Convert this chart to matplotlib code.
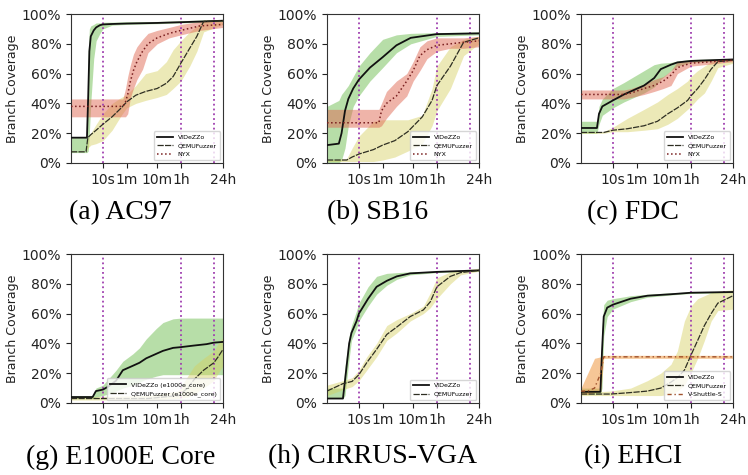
import matplotlib.pyplot as plt
from matplotlib.ticker import NullLocator

# x axis: fuzzing time in seconds (log scale)
XTICKS = [10, 60, 600, 3600, 86400]
XTICK_LABELS = ["10s", "1m", "10m", "1h", "24h"]
YTICKS = [0, 20, 40, 60, 80, 100]
VLINES = [10, 3600, 43200]

# ---- (a) AC97 ----
ac97_vz_t = [0.9, 3, 3.3, 3.6, 4, 5, 6, 8, 10, 20, 60, 600, 3600, 20000, 86400]
ac97_vz = [17, 17, 45, 75, 85, 89, 91, 92.5, 93, 93.3, 93.6, 94, 94.5, 95, 95.5]
ac97_vz_lo = [7, 7, 8, 20, 40, 70, 82, 87, 90, 92.5, 93, 93.5, 94, 94.5, 95]
ac97_vz_hi = [17, 17, 75, 90, 92, 93, 94, 94, 94.5, 94.5, 94.8, 95, 95.5, 96, 96]

ac97_qf_t = [0.9, 2.8, 3.2, 4, 6, 10, 20, 40, 60, 120, 250, 600, 1200, 2000, 3600, 7000, 12000, 20000, 86400]
ac97_qf = [7.5, 7.5, 17, 19, 22, 26, 31, 37, 41, 45.5, 48, 50, 53.5, 58, 67, 77, 85, 95, 95.5]
ac97_qf_lo = [7.5, 7.5, 10, 12, 13, 15, 22, 32, 37, 40, 42, 44, 46, 50, 55, 65, 75, 88, 93]
ac97_qf_hi = [7.5, 7.5, 17, 20, 26, 33, 40, 44, 46, 52, 60, 62, 68, 76, 82, 88, 92, 96, 96]

ac97_nyx_t = [0.9, 45, 55, 65, 80, 100, 130, 200, 300, 600, 1500, 3600, 15000, 86400]
ac97_nyx = [38, 38, 41, 46, 55, 62, 68, 75, 80, 84, 87, 89, 92, 93]
ac97_nyx_lo = [31, 31, 31, 33, 44, 50, 56, 63, 74, 80, 84, 86, 89, 91]
ac97_nyx_hi = [43, 43, 50, 58, 66, 73, 78, 83, 87, 89, 91, 93, 95, 95]

# ---- (b) SB16 ----
sb16_vz_t = [0.9, 2.2, 2.7, 3.5, 4.5, 6.5, 10, 23, 60, 170, 500, 3600, 86400]
sb16_vz = [12, 13, 20, 35, 43, 50, 56, 64, 71, 79, 84, 86.5, 87]
sb16_vz_lo = [0, 0, 2, 10, 25, 38, 45, 55, 64, 74, 80, 85, 86]
sb16_vz_hi = [38, 42, 46, 49, 52, 58, 65, 74, 83, 86, 87, 87.5, 88]

sb16_qf_t = [0.9, 4, 6, 10, 30, 60, 150, 400, 1200, 2500, 3600, 10000, 27000, 86400]
sb16_qf = [2, 2, 4, 6, 9, 12, 15, 21, 31, 42, 52, 65, 81, 84]
sb16_qf_lo = [1, 1, 1, 1, 1, 2, 4, 8, 13, 25, 35, 50, 72, 80]
sb16_qf_hi = [2, 3, 10, 18, 28, 29, 29, 29, 32, 50, 65, 78, 83, 85]

sb16_nyx_t = [0.9, 45, 55, 80, 170, 370, 600, 1000, 1700, 3600, 10000, 27000, 86400]
sb16_nyx = [27, 27, 35, 40, 45, 55, 62, 72, 76, 79, 80, 81, 82]
sb16_nyx_lo = [24, 24, 25, 30, 38, 45, 55, 62, 70, 75, 77, 77, 78]
sb16_nyx_hi = [36, 36, 40, 48, 55, 60, 68, 78, 82, 84, 84, 84, 85]

# ---- (c) FDC ----
fdc_vz_t = [0.9, 3, 3.5, 4.5, 10, 23, 49, 105, 225, 370, 800, 1300, 3600, 86400]
fdc_vz = [23.5, 23.5, 33, 38, 42, 46, 49, 52, 57, 63, 66, 67.5, 68.5, 69.5]
fdc_vz_lo = [20, 20, 26, 32, 37, 41, 44, 47, 51, 56, 62, 65, 67.5, 69]
fdc_vz_hi = [28, 28, 38, 43, 50, 54, 58, 62, 66, 67, 67.5, 68.5, 69.5, 70]

fdc_qf_t = [0.9, 5, 10, 30, 105, 290, 630, 1300, 2800, 3600, 6000, 10000, 16600, 27500, 86400]
fdc_qf = [20.5, 20.5, 22, 23, 25, 28, 33, 37, 42, 45, 50, 56, 63, 68, 69]
fdc_qf_lo = [20, 20, 21, 21, 22, 23, 26, 30, 36, 38, 43, 47, 55, 64, 67]
fdc_qf_hi = [21, 21, 24, 30, 36, 41, 46, 50, 55, 58, 62, 65, 68, 69, 70]

fdc_nyx_t = [0.9, 23, 40, 105, 225, 450, 800, 1300, 3600, 86400]
fdc_nyx = [46, 46, 47, 50, 52, 55, 59, 64, 67, 69]
fdc_nyx_lo = [43, 43, 44, 46, 48, 50, 52, 60, 65, 68]
fdc_nyx_hi = [49, 49, 50, 53, 56, 58, 62, 68, 69, 70]

# ---- (g) E1000E Core ----
e1k_vz_t = [0.9, 4.6, 5.9, 10, 15, 27, 45, 96, 158, 263, 560, 930, 2000, 3600, 9100, 25000, 43200, 86400]
e1k_vz = [4, 4, 8, 9, 11, 15, 22, 25, 27, 30, 33, 35, 37, 37.5, 38.5, 39.5, 40.5, 41]
e1k_vz_lo = [3, 3, 4, 5, 6, 8, 10, 12, 14, 16, 18, 19, 19, 19, 19, 19, 19, 19]
e1k_vz_hi = [5, 5, 10, 12, 16, 22, 28, 33, 37, 43, 50, 54, 56.5, 57, 57, 57, 57, 57]

e1k_qf_t = [0.9, 300, 3000, 6000, 10000, 20000, 43200, 60000, 86400]
e1k_qf = [3, 3, 5, 10, 16, 22, 27, 31, 36]
e1k_qf_lo = [2, 2, 3, 4, 6, 10, 15, 20, 25]
e1k_qf_hi = [4, 5, 8, 18, 25, 30, 35, 40, 44]

# ---- (h) CIRRUS-VGA ----
vga_vz_t = [0.9, 3, 3.5, 4.8, 5.7, 8.4, 10, 20, 38, 82, 175, 480, 3600, 86400]
vga_vz = [3, 3, 15, 40, 47, 55, 60, 70, 78, 82, 85, 87, 88, 89]
vga_vz_lo = [3, 3, 5, 30, 42, 50, 55, 65, 73, 79, 83, 86, 87.5, 88.5]
vga_vz_hi = [10, 10, 25, 45, 52, 62, 67, 78, 85, 87, 87.5, 88, 88.5, 89.5]

vga_qf_t = [0.9, 3, 6, 10, 18, 38, 82, 175, 480, 1300, 2200, 3600, 10000, 21500, 86400]
vga_qf = [8, 13, 14.5, 19, 27, 36, 46, 51, 58, 62.5, 68, 78, 85, 87.5, 89]
vga_qf_lo = [5, 9, 11, 15, 22, 31, 42, 47, 55, 60, 64, 70, 80, 86, 88.5]
vga_qf_hi = [12, 15, 17, 22, 31, 40, 52, 56, 60, 65, 74, 84, 88, 89, 90.5]

# ---- (i) EHCI ----
ehci_vz_t = [0.9, 3.9, 4.4, 5, 6.5, 10, 38, 135, 800, 3600, 86400]
ehci_vz = [7.5, 7.5, 35, 58, 64, 66, 70, 72, 73, 74, 74.5]
ehci_vz_lo = [6, 6, 10, 45, 58, 63, 68, 71, 72.5, 73.5, 74]
ehci_vz_hi = [10, 10, 50, 66, 69, 70, 72, 73, 74, 74.5, 75]

ehci_qf_t = [0.9, 8.4, 38, 135, 370, 800, 1300, 2200, 3600, 6000, 10000, 16600, 27500, 86400]
ehci_qf = [6, 6, 7, 8, 10, 14, 17, 22, 32, 42, 52, 60, 67, 72]
ehci_qf_lo = [5, 5, 5, 5, 5, 6, 8, 12, 20, 30, 42, 55, 62, 63]
ehci_qf_hi = [7, 8, 10, 15, 20, 26, 35, 55, 65, 70, 72, 74, 75, 76]

ehci_vs_t = [0.9, 1.5, 2.5, 4, 5, 86400]
ehci_vs = [8, 8, 10, 20, 31, 31]
ehci_vs_lo = [6, 6, 7, 8, 30, 30]
ehci_vs_hi = [10, 20, 30, 31, 32, 32]

GREEN, YELLOW, RED, ORANGE = "#7dc462", "#d6d060", "#e06a55", "#f0a050"

STYLE = {
    "vz": dict(fill=GREEN, alpha=0.55, color="#111111", ls="-", lw=1.3),
    "qf": dict(fill=YELLOW, alpha=0.45, color="#2e2e22", ls=(0, (5, 1)), lw=0.9),
    "nyx": dict(fill=RED, alpha=0.5, color="#7a2020", ls=":", lw=1.1),
    "vs": dict(fill=ORANGE, alpha=0.6, color="#a0522d", ls=(0, (3, 2, 1, 2)), lw=1.0),
}

panels = [
    ("(a) AC97", 71, 163, 120, 213, [
        ("vz", "VIDeZZo", ac97_vz_t, ac97_vz, ac97_vz_lo, ac97_vz_hi),
        ("qf", "QEMUFuzzer", ac97_qf_t, ac97_qf, ac97_qf_lo, ac97_qf_hi),
        ("nyx", "NYX", ac97_nyx_t, ac97_nyx, ac97_nyx_lo, ac97_nyx_hi)]),
    ("(b) SB16", 327, 163, 378, 213, [
        ("vz", "VIDeZZo", sb16_vz_t, sb16_vz, sb16_vz_lo, sb16_vz_hi),
        ("qf", "QEMUFuzzer", sb16_qf_t, sb16_qf, sb16_qf_lo, sb16_qf_hi),
        ("nyx", "NYX", sb16_nyx_t, sb16_nyx, sb16_nyx_lo, sb16_nyx_hi)]),
    ("(c) FDC", 581, 163, 633, 213, [
        ("vz", "VIDeZZo", fdc_vz_t, fdc_vz, fdc_vz_lo, fdc_vz_hi),
        ("qf", "QEMUFuzzer", fdc_qf_t, fdc_qf, fdc_qf_lo, fdc_qf_hi),
        ("nyx", "NYX", fdc_nyx_t, fdc_nyx, fdc_nyx_lo, fdc_nyx_hi)]),
    ("(g) E1000E Core", 71, 403, 121, 457, [
        ("vz", "VIDeZZo (e1000e_core)", e1k_vz_t, e1k_vz, e1k_vz_lo, e1k_vz_hi),
        ("qf", "QEMUFuzzer (e1000e_core)", e1k_qf_t, e1k_qf, e1k_qf_lo, e1k_qf_hi)]),
    ("(h) CIRRUS-VGA", 327, 403, 373, 457, [
        ("vz", "VIDeZZo", vga_vz_t, vga_vz, vga_vz_lo, vga_vz_hi),
        ("qf", "QEMUFuzzer", vga_qf_t, vga_qf, vga_qf_lo, vga_qf_hi)]),
    ("(i) EHCI", 581, 403, 633, 457, [
        ("vz", "VIDeZZo", ehci_vz_t, ehci_vz, ehci_vz_lo, ehci_vz_hi),
        ("qf", "QEMUFuzzer", ehci_qf_t, ehci_qf, ehci_qf_lo, ehci_qf_hi),
        ("vs", "V-Shuttle-S", ehci_vs_t, ehci_vs, ehci_vs_lo, ehci_vs_hi)]),
]

W, H = 748, 475
fig = plt.figure(figsize=(W / 100, H / 100), dpi=100)

for caption, left, bottom, cx, cy, series in panels:
    ax = fig.add_axes([left / W, 1 - bottom / H, 152 / W, 149 / H])
    for key, label, t, m, lo, hi in series:
        s = STYLE[key]
        ax.fill_between(t, lo, hi, color=s["fill"], alpha=s["alpha"], lw=0, zorder=1)
    for v in VLINES:
        ax.axvline(v, color="#a040b0", ls=":", lw=1.3, zorder=2)
    for key, label, t, m, lo, hi in series:
        s = STYLE[key]
        ax.plot(t, m, color=s["color"], ls=s["ls"], lw=s["lw"], label=label, zorder=3)

    ax.set_xscale("log")
    ax.set_xlim(0.9, 86400)
    ax.set_ylim(0, 100)
    ax.set_xticks(XTICKS)
    ax.set_xticklabels(XTICK_LABELS)
    ax.xaxis.set_minor_locator(NullLocator())
    ax.set_yticks(YTICKS)
    ax.set_yticklabels([f"{v}%" for v in YTICKS])
    ax.tick_params(labelsize=10, colors="#222222")
    for sp in ax.spines.values():
        sp.set_color("#333333")
    ax.set_ylabel("Branch Coverage", fontsize=9, color="#222222", labelpad=2)
    ax.legend(loc="lower right", fontsize=4.5, handlelength=2.5, framealpha=0.8,
              borderpad=0.5, labelspacing=0.5)
    fig.text(cx / W, 1 - cy / H, caption, ha="center", va="center",
             family="Liberation Serif", fontsize=20)

fig.savefig("out.png", dpi=100)
